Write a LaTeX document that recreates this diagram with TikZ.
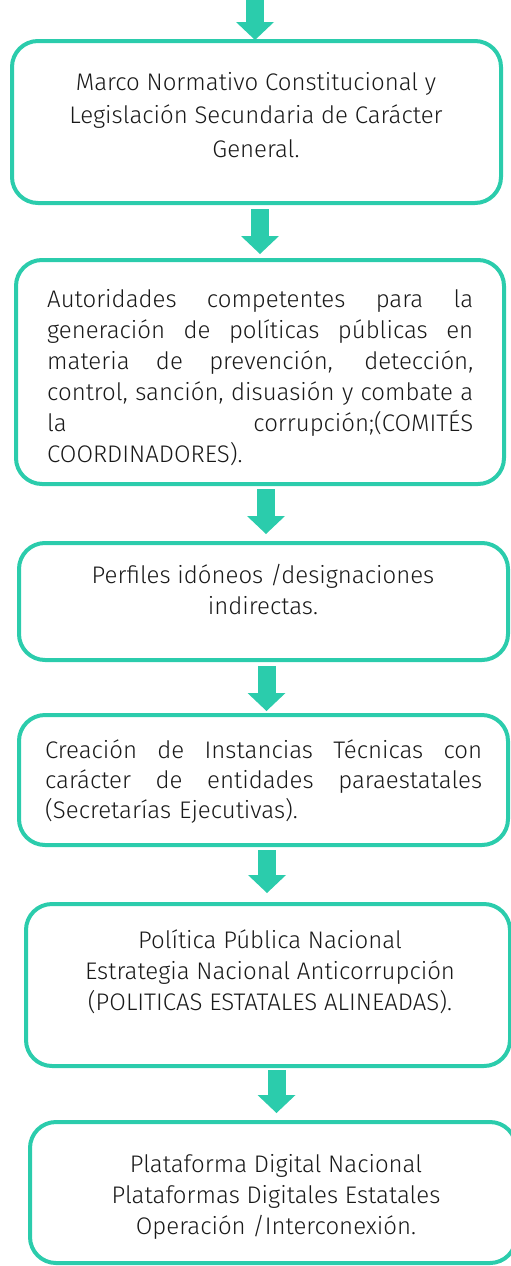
\documentclass[tikz,border=0pt]{standalone}
\usepackage{fontspec}
\setmainfont{Fira Sans Light}
\usetikzlibrary{arrows.meta,calc}
\definecolor{tealc}{RGB}{43,204,172}
\definecolor{inkc}{RGB}{25,25,25}
\newcommand{\jline}[2]{\hbox to #1{\spaceskip=0.26em plus 1fil minus 0.05em\relax #2}}
\begin{document}
\begin{tikzpicture}[x=1pt,y=-1pt,
  box/.style={draw=tealc,line width=4pt,rounded corners=26pt,inner sep=0pt},
  txt/.style={inner sep=0pt,text=inkc,font=\fontsize{24}{31}\selectfont},
  ctxt/.style={txt,anchor=base,align=center},
  jtxt/.style={txt,anchor=base west,align=left},
  blockarrow/.style={draw=tealc,line width=18pt,
    -{Triangle[width=38pt 0,length=18pt 0,line width=0pt]}}]
\useasboundingbox (0,0) rectangle (511,1266);
% boxes
\node[box,minimum width=489pt,minimum height=162pt] (b1) at (256.5,122) {};
\node[box,minimum width=488pt,minimum height=224pt] (b2) at (260,372) {};
\node[box,minimum width=489pt,minimum height=117pt] (b3) at (263.5,601.5) {};
\node[box,minimum width=489pt,minimum height=130pt] (b4) at (263.5,780) {};
\node[box,minimum width=484pt,minimum height=162pt] (b5) at (268,985) {};
\node[box,minimum width=486pt,minimum height=141pt] (b6) at (273,1192.5) {};
% texts (centred ones anchored at the baseline of their last line)
\node[ctxt,font=\fontsize{24}{33.5}\selectfont] (t1) at (256,157)
  {Marco Normativo Constitucional y\\Legislación Secundaria de Carácter\\General.};
\node[jtxt,text width=426pt] (t2) at (47,307)
  {\jline{426pt}{Autoridades competentes para la}
   \jline{426pt}{generación de políticas públicas en}
   \jline{426pt}{materia de prevención, detección,}
   \jline{426pt}{control, sanción, disuasión y combate a}
   \jline{426pt}{la corrupción;(COMITÉS}
   \hbox{COORDINADORES).}};
\node[ctxt] (t3) at (263,614) {Perfiles idóneos /designaciones\\indirectas.};
\node[jtxt,text width=437pt,font=\fontsize{24}{30}\selectfont] (t4) at (45,758)
  {\jline{437pt}{Creación de Instancias Técnicas con}
   \jline{437pt}{carácter de entidades paraestatales}
   \hbox{(Secretarías Ejecutivas).}};
\node[ctxt] (t5) at (270,1010)
  {Política Pública Nacional\\Estrategia Nacional Anticorrupción\\(POLITICAS ESTATALES ALINEADAS).};
\node[ctxt] (t6) at (276,1234)
  {Plataforma Digital Nacional\\Plataformas Digitales Estatales\\Operación /Interconexión.};
% arrows
\coordinate (s1) at (255,-10);
\coordinate (s2) at ($(b1.south)+(3.5,4)$);
\coordinate (s3) at ($(b2.south)+(6,3)$);
\coordinate (s4) at ($(b3.south)+(3,4)$);
\coordinate (s5) at ($(b4.south)+(3.5,3)$);
\coordinate (s6) at ($(b5.south)+(8.5,2)$);
\draw[blockarrow] (s1) -- ($(s1 |- b1.north)+(0,1)$);
\draw[blockarrow] (s2) -- ($(s2 |- b2.north)+(0,-4)$);
\draw[blockarrow] (s3) -- ($(s3 |- b3.north)+(0,-7)$);
\draw[blockarrow] (s4) -- ($(s4 |- b4.north)+(0,-2)$);
\draw[blockarrow] (s5) -- ($(s5 |- b5.north)+(0,-9)$);
\draw[blockarrow] (s6) -- ($(s6 |- b6.north)+(0,-7)$);
\end{tikzpicture}
\end{document}
